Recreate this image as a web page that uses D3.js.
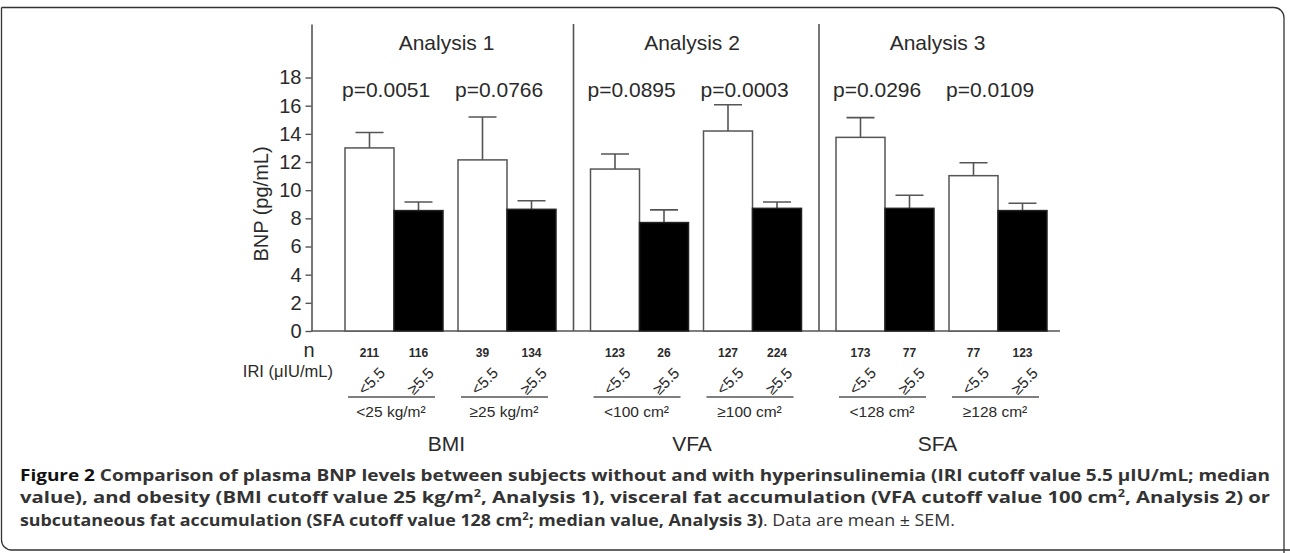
<!DOCTYPE html>
<html>
<head>
<meta charset="utf-8">
<script src="https://cdn.jsdelivr.net/npm/d3@7"></script>
<style>
  body { margin: 0; background: #fff; }
  svg { display: block; }
</style>
</head>
<body>
<div class="holder"></div>
<script>
const analyses = ['Analysis 1', 'Analysis 2', 'Analysis 3'];
const factors = ['BMI', 'VFA', 'SFA'];
const subgroups = ['<25 kg/m²', '≥25 kg/m²', '<100 cm²', '≥100 cm²', '<128 cm²', '≥128 cm²'];
const pValues = ['p=0.0051', 'p=0.0766', 'p=0.0895', 'p=0.0003', 'p=0.0296', 'p=0.0109'];
const iriLevels = ['<5.5', '≥5.5'];
const lowMean = [13.0, 12.15, 11.5, 14.2, 13.75, 11.03];
const lowSem = [1.1, 3.05, 1.07, 1.87, 1.4, 0.92];
const highMean = [8.55, 8.64, 7.7, 8.71, 8.71, 8.55];
const highSem = [0.61, 0.61, 0.9, 0.45, 0.93, 0.52];
const lowN = [211, 39, 123, 127, 173, 77];
const highN = [116, 134, 26, 224, 77, 123];
const yTicks = [0, 2, 4, 6, 8, 10, 12, 14, 16, 18];

const width = 1290,
    height = 553,
    line = '#555',
    ink = '#2a2a2a',
    font = '"Liberation Sans", Arial, sans-serif';

const svg = d3.select('.holder')
    .append('svg')
    .attr('width', width)
    .attr('height', height);

// frame
svg.append('path')
    .attr('d', 'M1.5,7.5 H1274 A10,10 0 0 1 1284,17.5 V553 M1.5,7.5 V540 A10,10 0 0 0 11.5,550 H1290')
    .attr('fill', 'none')
    .attr('stroke', '#333')
    .attr('stroke-width', 1.3);

// scales
const yScale = d3.scaleLinear().domain([0, 21.8]).range([331, 24]);
const xAnalysis = d3.scaleLinear().domain([0, 2]).range([345, 836]);
const xBar = d3.scaleBand().domain(iriLevels).range([0, 98]);
const groupX = g => xAnalysis(Math.floor(g / 2)) + (g % 2) * 113;

// y axis
const yAxis = d3.axisLeft(yScale)
    .tickValues(yTicks)
    .tickSize(6)
    .tickSizeOuter(0)
    .tickPadding(4);

const gy = svg.append('g')
    .attr('transform', 'translate(311.5,0)')
    .call(yAxis);
gy.select('.domain').attr('stroke', line).attr('stroke-width', 1.6);
gy.selectAll('.tick line').attr('stroke', line).attr('stroke-width', 1.4);
gy.selectAll('.tick text')
    .attr('fill', ink)
    .style('font', '20px ' + font);

svg.append('text')
    .attr('transform', 'translate(268,204) rotate(-90)')
    .attr('text-anchor', 'middle')
    .attr('fill', ink)
    .style('font', '20px ' + font)
    .text('BNP (pg/mL)');

// baseline
svg.append('line')
    .attr('x1', 311).attr('x2', groupX(5) + 111)
    .attr('y1', yScale(0)).attr('y2', yScale(0))
    .attr('stroke', line).attr('stroke-width', 1.6);

// separators between analyses
svg.selectAll('.sep')
    .data([1, 2])
    .enter()
    .append('line')
    .attr('class', 'sep')
    .attr('x1', d => xAnalysis(d) - 17)
    .attr('x2', d => xAnalysis(d) - 17)
    .attr('y1', yScale.range()[1])
    .attr('y2', yScale(0))
    .attr('stroke', line).attr('stroke-width', 1.6);

// analysis titles
const analysisMid = a => (groupX(a * 2) + groupX(a * 2 + 1) + xBar.step() * 2) / 2 - 4;
svg.selectAll('.title')
    .data(analyses)
    .enter()
    .append('text')
    .attr('x', (d, i) => analysisMid(i))
    .attr('y', 50)
    .attr('text-anchor', 'middle')
    .attr('fill', ink)
    .style('font', '21px ' + font)
    .text(d => d);

// p values
svg.selectAll('.pval')
    .data(pValues)
    .enter()
    .append('text')
    .attr('x', (d, i) => groupX(i) - 3)
    .attr('y', 97)
    .attr('fill', ink)
    .style('font', '21px ' + font)
    .text(d => d);

// bars
const groups = d3.range(6).map(g => ({
    g: g,
    bars: [
        { level: iriLevels[0], mean: lowMean[g], sem: lowSem[g], n: lowN[g] },
        { level: iriLevels[1], mean: highMean[g], sem: highSem[g], n: highN[g] }
    ]
}));

const gGroup = svg.selectAll('.grp')
    .data(groups)
    .enter()
    .append('g')
    .attr('transform', d => `translate(${groupX(d.g)},0)`);

// error bars first so the bar outline sits on top
gGroup.selectAll('.err')
    .data(d => d.bars)
    .enter()
    .append('path')
    .attr('d', d => {
        const cx = xBar(d.level) + xBar.bandwidth() / 2;
        const top = yScale(d.mean + d.sem);
        return `M${cx},${yScale(d.mean)} V${top} M${cx - 14},${top} H${cx + 14}`;
    })
    .attr('fill', 'none')
    .attr('stroke', line)
    .attr('stroke-width', 1.6);

gGroup.selectAll('rect')
    .data(d => d.bars)
    .enter()
    .append('rect')
    .attr('x', d => xBar(d.level))
    .attr('y', d => yScale(d.mean))
    .attr('width', xBar.bandwidth())
    .attr('height', d => yScale(0) - yScale(d.mean))
    .attr('fill', (d, i) => i === 0 ? '#fff' : '#000')
    .attr('stroke', (d, i) => i === 0 ? line : '#222')
    .attr('stroke-width', 1.5);

// n row
svg.append('text')
    .attr('x', 309).attr('y', 357)
    .attr('text-anchor', 'middle')
    .attr('fill', ink)
    .style('font', '20px ' + font)
    .text('n');

gGroup.selectAll('.n')
    .data(d => d.bars)
    .enter()
    .append('text')
    .attr('x', d => xBar(d.level) + xBar.bandwidth() / 2)
    .attr('y', 357)
    .attr('text-anchor', 'middle')
    .attr('fill', ink)
    .style('font', 'bold 12px ' + font)
    .text(d => d.n);

// IRI row
svg.append('text')
    .attr('x', 333).attr('y', 377)
    .attr('text-anchor', 'end')
    .attr('fill', ink)
    .style('font', '16.5px ' + font)
    .text('IRI (μIU/mL)');

gGroup.selectAll('.iri')
    .data(d => d.bars)
    .enter()
    .append('text')
    .attr('transform', d => `translate(${xBar(d.level) + xBar.bandwidth() / 2 + 2},381) rotate(-45)`)
    .attr('text-anchor', 'middle')
    .attr('dy', '0.35em')
    .attr('fill', ink)
    .style('font', '15.5px ' + font)
    .text(d => d.level);

// subgroup rules and labels
gGroup.append('line')
    .attr('x1', xBar.step() - 46)
    .attr('x2', xBar.step() + 41)
    .attr('y1', 397).attr('y2', 397)
    .attr('stroke', line).attr('stroke-width', 1.6);

gGroup.append('text')
    .attr('x', xBar.step() - 3)
    .attr('y', 417)
    .attr('text-anchor', 'middle')
    .attr('fill', ink)
    .style('font', '15.5px ' + font)
    .text(d => subgroups[d.g]);

// factor labels
svg.selectAll('.factor')
    .data(factors)
    .enter()
    .append('text')
    .attr('x', (d, i) => analysisMid(i))
    .attr('y', 451)
    .attr('text-anchor', 'middle')
    .attr('fill', ink)
    .style('font', '21px ' + font)
    .text(d => d);

// caption
const capFont = '"Open Sans", "Noto Sans", sans-serif';
const caption = svg.append('g')
    .style('font-family', capFont)
    .style('font-size', '16px')
    .attr('fill', '#333');

const l1 = caption.append('text').attr('x', 20).attr('y', 481)
    .attr('textLength', 1250).attr('lengthAdjust', 'spacingAndGlyphs');
l1.append('tspan').attr('font-weight', 'bold').attr('fill', '#111').text('Figure 2 ');
l1.append('tspan').attr('font-weight', 'bold')
    .text('Comparison of plasma BNP levels between subjects without and with hyperinsulinemia (IRI cutoff value 5.5 μIU/mL; median');

const l2 = caption.append('text').attr('x', 20).attr('y', 503)
    .attr('textLength', 1250).attr('lengthAdjust', 'spacingAndGlyphs')
    .attr('font-weight', 'bold');
l2.append('tspan').text('value), and obesity (BMI cutoff value 25 kg/m');
l2.append('tspan').attr('dy', -6).style('font-size', '10px').text('2');
l2.append('tspan').attr('dy', 6).text(', Analysis 1), visceral fat accumulation (VFA cutoff value 100 cm');
l2.append('tspan').attr('dy', -6).style('font-size', '10px').text('2');
l2.append('tspan').attr('dy', 6).text(', Analysis 2) or');

const l3 = caption.append('text').attr('x', 20).attr('y', 526)
    .attr('textLength', 935).attr('lengthAdjust', 'spacingAndGlyphs');
l3.append('tspan').attr('font-weight', 'bold').text('subcutaneous fat accumulation (SFA cutoff value 128 cm');
l3.append('tspan').attr('font-weight', 'bold').attr('dy', -6).style('font-size', '10px').text('2');
l3.append('tspan').attr('font-weight', 'bold').attr('dy', 6).text('; median value, Analysis 3)');
l3.append('tspan').text('. Data are mean ± SEM.');
</script>
</body>
</html>
